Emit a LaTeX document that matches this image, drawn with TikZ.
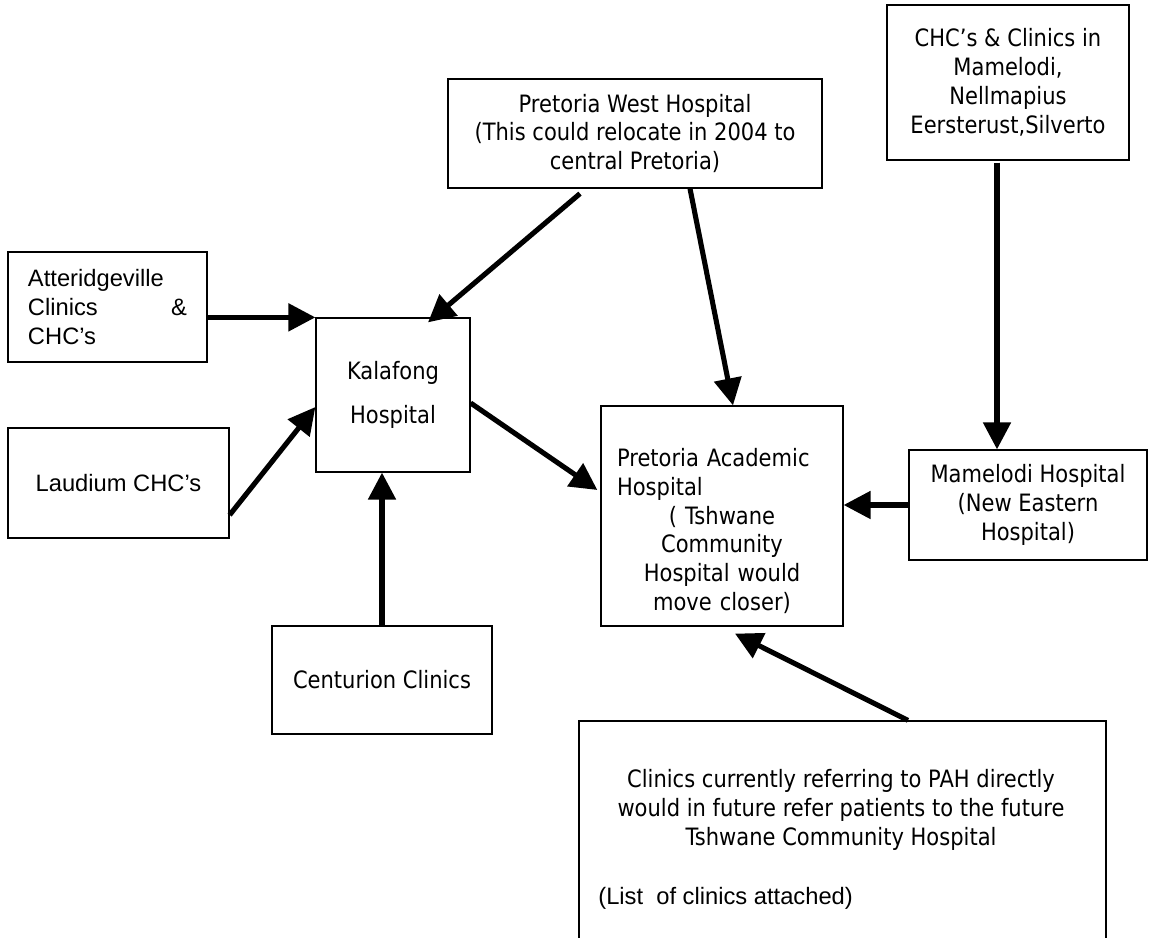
\documentclass[tikz,border=0pt]{standalone}
\usepackage{fontspec}
\setmainfont{DejaVu Sans}[FakeStretch=0.88]
\newfontfamily\arialfont{Liberation Sans}
\usetikzlibrary{arrows.meta,calc}

\begin{document}
\begin{tikzpicture}[font=\fontsize{13.6}{16.4}\selectfont,
    box/.style={draw, line width=0.7pt, align=center},
    arial/.style={font=\arialfont\fontsize{13.5}{16.4}\selectfont},
    flow/.style={line width=2.9pt, -{Triangle[length=0.54cm,width=0.54cm]}}]
            \useasboundingbox (0,0) rectangle (23,18.76);
            \clip (0,0) rectangle (23,18.76);

            \node[box, arial, minimum width=3.98cm, minimum height=2.2cm, text width=3.18cm, align=left] (att) at (2.15,12.62) {Atteridgeville\\Clinics\hfill\&\\CHC’s};
            \node[box, minimum width=3.08cm, minimum height=3.08cm] (kal) at (7.86,10.86) {Kalafong\\[9pt]Hospital};
            \node[box, arial, minimum width=4.42cm, minimum height=2.2cm] (laud) at (2.37,9.10) {Laudium CHC’s};
            \node[box, minimum width=4.4cm, minimum height=2.16cm] (cent) at (7.64,5.16) {Centurion Clinics};

            \node[box, minimum width=7.48cm, minimum height=2.18cm] (pw) at (12.70,16.09) {Pretoria West Hospital\\(This could relocate in 2004 to\\central Pretoria)};
            \node[box, minimum width=4.84cm, minimum height=3.1cm] (chc) at (20.16,17.11) {CHC’s \& Clinics in\\Mamelodi,\\Nellmapius\\Eersterust,Silverto};
            \node[box, minimum width=4.76cm, minimum height=2.2cm] (mam) at (20.56,8.66) {Mamelodi Hospital\\(New Eastern\\Hospital)};

            \node[box, minimum width=4.84cm, minimum height=4.4cm] (pah) at (14.44,8.44) {};
            \node[text width=4.2cm, align=center] (pahtext) at (14.44,8.14) {\makebox[\hsize][s]{Pretoria Academic}\\\makebox[\hsize][l]{Hospital}\\( Tshwane\\Community\\Hospital would\\move closer)};

            \node[box, minimum width=10.54cm, minimum height=4.78cm] (ref) at (16.85,1.95) {};
            \node[align=center] (reftext) at (16.82,2.56) {Clinics currently referring to PAH directly\\would in future refer patients to the future\\Tshwane Community Hospital};
            \node[arial, anchor=west, inner sep=0pt] (reflist) at (11.96,0.80) {(List~~of clinics attached)};

            \draw[flow] (att.east |- kal.north west) -- (kal.north west);
            \draw[flow] ($(laud.east)+(0,-0.64)$) -- ($(kal.west)+(0,-0.24)$);
            \draw[flow] (cent.north) -- (cent.north |- kal.south);
            \draw[flow] ($(pw.south)+(-1.1,-0.1)$) -- ($(kal.north)+(0.7,-0.1)$);
            \draw[flow] ($(pw.south)+(1.1,0)$) -- ($(pah.north)+(0.22,0)$);
            \draw[flow] ($(kal.east)+(0,-0.16)$) -- ($(pah.west)+(-0.06,0.52)$);
            \draw[flow] ($(chc.south)+(-0.22,-0.04)$) -- ($(mam.north)+(-0.62,0)$);
            \draw[flow] (mam.west) -- (pah.east |- mam.west);
            \draw[flow] ($(ref.north)+(1.31,0)$) -- ($(pah.south)+(0.26,-0.14)$);
        \end{tikzpicture}
\end{document}
